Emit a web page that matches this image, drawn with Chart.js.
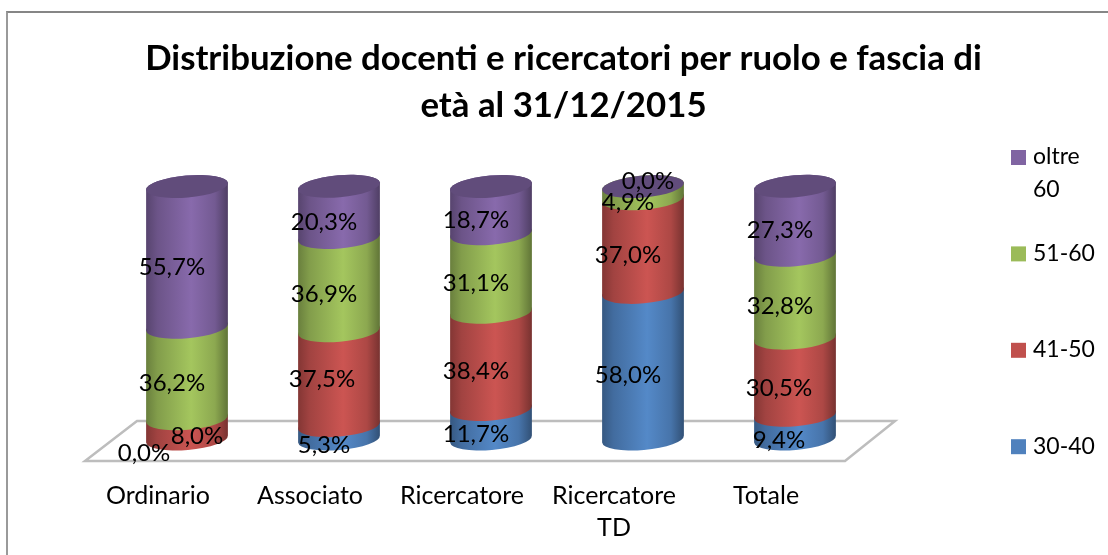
<!DOCTYPE html>
<html>
<head>
<meta charset="utf-8">
<style>
html, body { margin: 0; padding: 0; background: #fff; overflow: hidden; }
#frame { position: absolute; left: 6px; top: 11px; width: 1102px; height: 544px; border-top: 2px solid #868686; border-left: 2px solid #9a9a9a; box-sizing: border-box; }
#ageChart { position: absolute; left: 0; top: 0; }
</style>
<script src="https://cdn.jsdelivr.net/npm/chart.js@4/dist/chart.umd.min.js"></script>
</head>
<body>
<div id="frame"></div>
<canvas id="ageChart" width="1108" height="555"></canvas>
<script>
const titleLines = ['Distribuzione docenti e ricercatori per ruolo e fascia di', 'età al 31/12/2015'];
const categories = ['Ordinario', 'Associato', 'Ricercatore', ['Ricercatore', 'TD'], 'Totale'];
const seriesNames = ['30-40', '41-50', '51-60', 'oltre 60'];
const seriesColors = ['#4F81BD', '#C0504D', '#9BBB59', '#8064A2'];
const v3040 = [0.0, 5.3, 11.7, 58.0, 9.4];
const v4150 = [8.0, 37.5, 38.4, 37.0, 30.5];
const v5160 = [36.2, 36.9, 31.1, 4.9, 32.8];
const vOltre = [55.7, 20.3, 18.7, 0.0, 27.3];
const seriesValues = [v3040, v4150, v5160, vOltre];

// labels in the original were moved by hand, these are the ones off the default spot
const labelShift = {
    '0:0': [-43, 14], '1:0': [10, 7], '0:1': [-15, 13], '1:1': [-17, 1],
    '3:3': [5, -5], '0:4': [-16, 13], '1:4': [-16, 12]
};

function shade(hex, f) {
    const n = parseInt(hex.slice(1), 16);
    const c = [n >> 16, (n >> 8) & 255, n & 255].map(v => Math.min(255, Math.round(v * f)));
    return `rgb(${c[0]},${c[1]},${c[2]})`;
}

function sideFill(ctx, cx, rx, color) {
    const g = ctx.createLinearGradient(cx - rx, 0, cx + rx, 0);
    g.addColorStop(0, shade(color, 0.68));
    g.addColorStop(0.14, shade(color, 0.84));
    g.addColorStop(0.55, shade(color, 1.06));
    g.addColorStop(0.84, shade(color, 0.9));
    g.addColorStop(1, shade(color, 0.62));
    return g;
}

const cylinders = {
    id: 'cylinders',
    beforeDatasetsDraw(chart) {
        const { ctx, chartArea, scales } = chart;
        const y0 = scales.y.getPixelForValue(0);
        const tilt = -5 * Math.PI / 180;
        const ry = 11;

        // floor
        ctx.save();
        ctx.strokeStyle = '#bdbdbd';
        ctx.lineWidth = 2.5;
        ctx.beginPath();
        ctx.moveTo(chartArea.left + 26, y0 - 18);
        ctx.lineTo(chartArea.right + 24, y0 - 18);
        ctx.lineTo(chartArea.right - 26, y0 + 22);
        ctx.lineTo(chartArea.left - 26, y0 + 22);
        ctx.closePath();
        ctx.stroke();

        // bottom to top so each band sits on the one below
        seriesValues.forEach((vals, s) => {
            const meta = chart.getDatasetMeta(s);
            meta.data.forEach((bar, i) => {
                if (!vals[i]) return;
                const rx = bar.width / 2;
                ctx.fillStyle = sideFill(ctx, bar.x, rx, seriesColors[s]);
                ctx.beginPath();
                ctx.ellipse(bar.x, bar.base, rx, ry, tilt, 0, Math.PI);
                ctx.ellipse(bar.x, bar.y, rx, ry, tilt, Math.PI, 2 * Math.PI);
                ctx.closePath();
                ctx.fill();
            });
        });

        // top caps
        const lastS = seriesValues.length - 1;
        chart.getDatasetMeta(lastS).data.forEach(bar => {
            ctx.fillStyle = shade(seriesColors[lastS], 0.76);
            ctx.beginPath();
            ctx.ellipse(bar.x, bar.y, bar.width / 2, ry, tilt, 0, 2 * Math.PI);
            ctx.fill();
        });

        // value labels
        ctx.fillStyle = '#000';
        ctx.font = '24px Lato';
        ctx.textAlign = 'center';
        ctx.textBaseline = 'middle';
        seriesValues.forEach((vals, s) => {
            chart.getDatasetMeta(s).data.forEach((bar, i) => {
                const shift = labelShift[s + ':' + i] || [-15, 10];
                const text = vals[i].toFixed(1).replace('.', ',') + '%';
                ctx.fillText(text, bar.x + shift[0], (bar.y + bar.base) / 2 + shift[1]);
            });
        });
        ctx.restore();
        return false;
    }
};

const sideLegend = {
    id: 'sideLegend',
    afterDraw(chart) {
        const { ctx, chartArea } = chart;
        const x = chartArea.right + 140;
        ctx.save();
        ctx.font = '23px Lato';
        ctx.textAlign = 'left';
        ctx.textBaseline = 'middle';
        [...seriesNames].reverse().forEach((name, i) => {
            const y = 158 + i * 96.4;
            ctx.fillStyle = seriesColors[seriesNames.length - 1 - i];
            ctx.fillRect(x, y - 8, 15, 15);
            ctx.fillStyle = '#000';
            name.split(' ').forEach((line, k) => ctx.fillText(line, x + 22, y - 1 + k * 33));
        });
        ctx.restore();
    }
};

const hiddenAxis = width => ({
    display: true,
    min: 0,
    max: 100,
    ticks: { display: false },
    grid: { display: false },
    border: { display: false },
    afterFit(scale) { scale.width = width; }
});

new Chart(document.getElementById('ageChart').getContext('2d'), {
    type: 'bar',
    data: {
        labels: categories,
        datasets: seriesNames.map((name, s) => ({
            label: name,
            data: seriesValues[s],
            backgroundColor: seriesColors[s],
            barPercentage: 0.54,
            categoryPercentage: 1
        }))
    },
    options: {
        responsive: false,
        animation: false,
        layout: { padding: { left: 19, right: 0, top: 36, bottom: 0 } },
        scales: {
            x: {
                stacked: true,
                grid: { display: false },
                border: { display: false },
                afterFit(scale) { scale.height = 116; },
                ticks: {
                    color: '#000',
                    font: { family: 'Lato', size: 25, lineHeight: 1.28 },
                    padding: 33,
                    labelOffset: -29,
                    autoSkip: false,
                    maxRotation: 0,
                    minRotation: 0
                }
            },
            y: { ...hiddenAxis(92), stacked: true },
            yRight: { ...hiddenAxis(237), position: 'right' }
        },
        plugins: {
            legend: { display: false },
            tooltip: { enabled: false },
            title: {
                display: true,
                text: titleLines,
                color: '#000',
                font: { family: 'Lato', size: 34.8, weight: 'bold', lineHeight: 1.33 },
                padding: { top: 0, bottom: 57.6 }
            }
        }
    },
    plugins: [cylinders, sideLegend]
});
</script>
</body>
</html>
